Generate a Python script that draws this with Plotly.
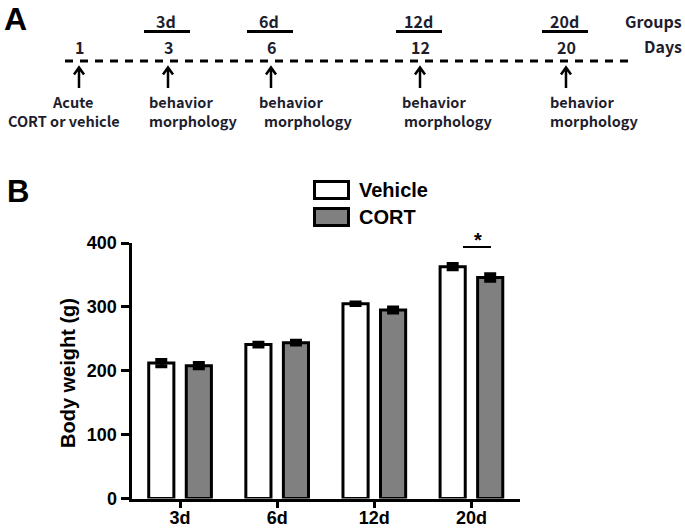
import plotly.graph_objects as go

W, H = 685, 528

# ---------------- data ----------------
groups = ["3d", "6d", "12d", "20d"]
vehicle = [212, 241, 305, 363]
vehicle_err = [5, 3, 2, 4]
cort = [208, 244, 295, 346]
cort_err = [4, 3, 4, 5]
y_ticks = [0, 100, 200, 300, 400]

days = ["1", "3", "6", "12", "20"]
timeline_groups = ["", "3d", "6d", "12d", "20d"]
events = [("Acute", "CORT or vehicle")] + [("behavior", "morphology")] * 4

# ---------------- helpers ----------------
def px(x):
    return x / W

def py(y):
    return 1 - y / H

FONT = "Liberation Sans, Arial, sans-serif"
KFONT = "Noto Sans CJK KR, Noto Sans, sans-serif"
TXT = "#1e1e2e"

fig = go.Figure()
fig.add_trace(go.Bar(
    name="Vehicle", x=groups, y=vehicle,
    marker=dict(color="white", line=dict(color="black", width=3)),
    error_y=dict(type="data", array=vehicle_err, color="black", thickness=4, width=6),
    showlegend=False,
))
fig.add_trace(go.Bar(
    name="CORT", x=groups, y=cort,
    marker=dict(color="#808080", line=dict(color="black", width=3)),
    error_y=dict(type="data", array=cort_err, color="black", thickness=4, width=6),
    showlegend=False,
))

fig.update_layout(
    width=W, height=H,
    margin=dict(l=0, r=0, t=0, b=0, autoexpand=False),
    paper_bgcolor="white", plot_bgcolor="white",
    barmode="group", bargap=0.227, bargroupgap=0.33,
    xaxis=dict(
        domain=[px(131.5), px(520)], range=[-0.5, 3.5], automargin=False,
        showline=True, linewidth=3, linecolor="black",
        ticks="outside", ticklen=6, tickwidth=3, tickcolor="black",
        ticklabelstandoff=-5,
        tickfont=dict(family=FONT, size=18, color="black", weight="bold"),
        showgrid=False, zeroline=False, fixedrange=True,
    ),
    yaxis=dict(
        domain=[py(498.5), py(243)], range=[0, 400], automargin=False,
        tickvals=y_ticks,
        showline=True, linewidth=3, linecolor="black",
        ticks="outside", ticklen=8, tickwidth=3, tickcolor="black",
        tickfont=dict(family=FONT, size=18, color="black", weight="bold"),
        showgrid=False, zeroline=False, fixedrange=True,
    ),
)

ann = []
shapes = []

# panel labels
ann.append(dict(text="<b>A</b>", x=px(3), y=1, xref="paper", yref="paper",
                xanchor="left", yanchor="top", showarrow=False, borderpad=0,
                font=dict(family=FONT, size=32, color="black")))
ann.append(dict(text="<b>B</b>", x=px(5), y=py(191), xref="paper", yref="paper",
                xanchor="left", yanchor="middle", showarrow=False,
                font=dict(family=FONT, size=31, color="black")))

# y title
ann.append(dict(text="<b>Body weight (g)</b>", x=px(68), y=py(373), xref="paper", yref="paper",
                textangle=-90, xanchor="center", yanchor="middle", showarrow=False,
                font=dict(family=FONT, size=20, color="black")))

# legend (manual)
leg = [("Vehicle", "white", 190), ("CORT", "#808080", 217)]
for name, col, yc in leg:
    shapes.append(dict(type="rect", xref="paper", yref="paper",
                       x0=px(314.5), x1=px(348.5), y0=py(yc - 8.5), y1=py(yc + 8.5),
                       line=dict(color="black", width=3), fillcolor=col))
    ann.append(dict(text="<b>%s</b>" % name, x=px(357), y=py(yc), xref="paper", yref="paper",
                    xanchor="left", yanchor="middle", showarrow=False,
                    font=dict(family=FONT, size=20, color="black")))

# significance
shapes.append(dict(type="line", xref="paper", yref="paper",
                   x0=px(463), x1=px(491), y0=py(247), y1=py(247),
                   line=dict(color="black", width=2)))
ann.append(dict(text="<b>*</b>", x=px(478), y=py(240), xref="paper", yref="paper",
                xanchor="center", yanchor="middle", showarrow=False,
                font=dict(family=FONT, size=20, color="black")))

# ---------------- timeline (panel A) ----------------
tl_x = [79, 168, 271, 420, 566]
tl_text_left = [None, 147, 257, 400, 548]
tl_text_left2 = [None, 147, 262, 402, 548]
EV = 14.5

shapes.append(dict(type="line", xref="paper", yref="paper",
                   x0=px(65), x1=px(630), y0=py(61), y1=py(61),
                   line=dict(color="black", width=3, dash="8px,7px")))

for i, xc in enumerate(tl_x):
    ann.append(dict(text="<b>%s</b>" % days[i], x=px(xc), y=py(47), xref="paper", yref="paper",
                    xanchor="center", yanchor="middle", showarrow=False,
                    font=dict(family=KFONT, size=16, color=TXT)))
    if timeline_groups[i]:
        ann.append(dict(text="<b>%s</b>" % timeline_groups[i], x=px(xc - 2), y=py(21),
                        xref="paper", yref="paper", xanchor="center", yanchor="middle",
                        showarrow=False, font=dict(family=KFONT, size=16, color=TXT)))
        shapes.append(dict(type="line", xref="paper", yref="paper",
                           x0=px(xc - 24), x1=px(xc + 22), y0=py(31.5), y1=py(31.5),
                           line=dict(color="black", width=3)))
    shapes.append(dict(type="path", xref="paper", yref="paper",
                       path="M %f,%f L %f,%f M %f,%f L %f,%f L %f,%f" % (
                           px(xc), py(88), px(xc), py(68),
                           px(xc - 5), py(74.5), px(xc), py(67.5), px(xc + 5), py(74.5)),
                       line=dict(color="black", width=2.5)))
    t1, t2 = events[i]
    if i == 0:
        ann.append(dict(text="<b>%s</b>" % t1, x=px(72), y=py(102), xref="paper", yref="paper",
                        xanchor="center", yanchor="middle", showarrow=False,
                        font=dict(family=KFONT, size=EV, color=TXT)))
        ann.append(dict(text="<b>%s</b>" % t2, x=px(64), y=py(120), xref="paper", yref="paper",
                        xanchor="center", yanchor="middle", showarrow=False,
                        font=dict(family=KFONT, size=EV, color=TXT)))
    else:
        ann.append(dict(text="<b>%s</b>" % t1, x=px(tl_text_left[i]), y=py(102), xref="paper",
                        yref="paper", xanchor="left", yanchor="middle", showarrow=False,
                        font=dict(family=KFONT, size=EV, color=TXT)))
        ann.append(dict(text="<b>%s</b>" % t2, x=px(tl_text_left2[i]), y=py(120), xref="paper",
                        yref="paper", xanchor="left", yanchor="middle", showarrow=False,
                        font=dict(family=KFONT, size=EV, color=TXT)))

ann.append(dict(text="<b>Groups</b>", x=px(684), y=py(21), xref="paper", yref="paper",
                xanchor="right", yanchor="middle", showarrow=False,
                font=dict(family=KFONT, size=16, color=TXT)))
ann.append(dict(text="<b>Days</b>", x=px(684), y=py(46), xref="paper", yref="paper",
                xanchor="right", yanchor="middle", showarrow=False,
                font=dict(family=KFONT, size=16, color=TXT)))

fig.update_layout(annotations=ann, shapes=shapes)
fig.write_html("out.html", config={"displayModeBar": False},
               post_script="document.body.style.margin='0px';document.body.style.padding='0px';")
